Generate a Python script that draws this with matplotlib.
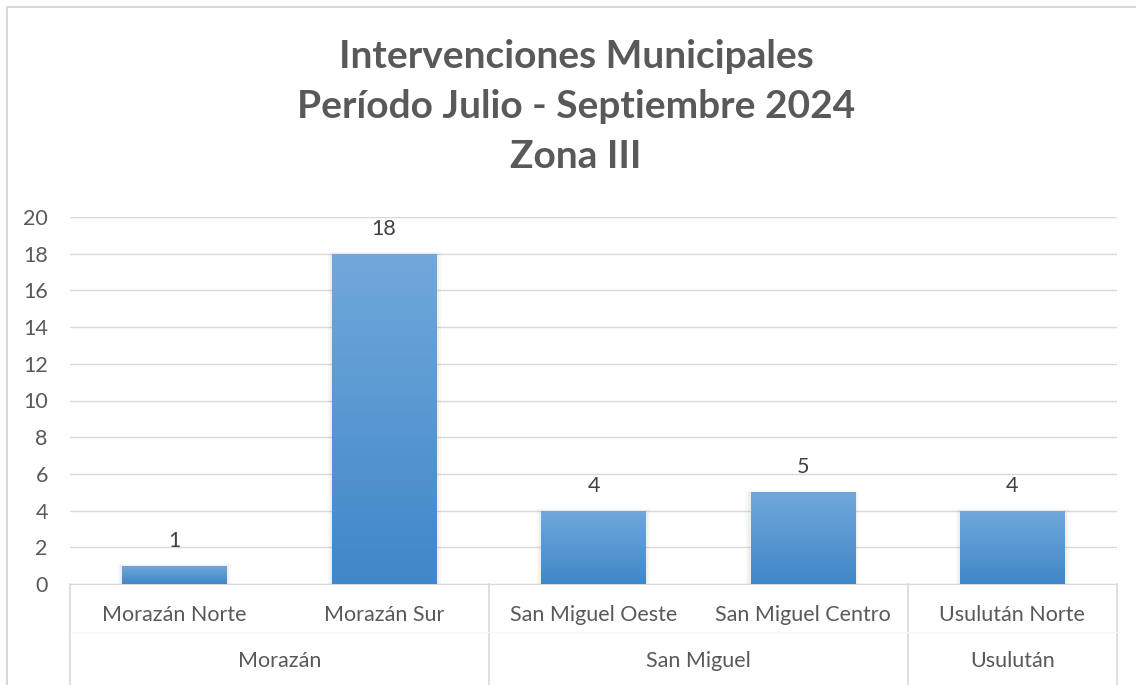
import numpy as np
import matplotlib.pyplot as plt
import matplotlib.transforms as mtransforms
from matplotlib.colors import LinearSegmentedColormap

plt.rcParams['font.family'] = ['Lato', 'DejaVu Sans']

# data
subcats = ["Morazán Norte", "Morazán Sur", "San Miguel Oeste", "San Miguel Centro", "Usulután Norte"]
groups = ["Morazán", "San Miguel", "Usulután"]
group_sizes = [2, 2, 1]
values = [1, 18, 4, 5, 4]
yticks = [0, 2, 4, 6, 8, 10, 12, 14, 16, 18, 20]
title_lines = ["Intervenciones Municipales", "Período Julio - Septiembre 2024", "Zona III"]

W, H = 1136, 685
TXT = "#595959"
GRID = "#d9d9d9"
FS = 15.5

fig = plt.figure(figsize=(W / 100, H / 100), dpi=100)
ax = fig.add_axes([70 / W, (H - 584) / H, (1117 - 70) / W, (584 - 217) / H])

x = np.arange(len(subcats))
bars = ax.bar(x, values, width=0.5, color="none", edgecolor="none", zorder=3)

# gradient fill + soft shadow per bar
cmap = LinearSegmentedColormap.from_list("bar", [(0.25, 0.53, 0.78), (0.44, 0.66, 0.86)])
grad = np.linspace(1, 0, 256).reshape(-1, 1)
for b in bars:
    x0, w, h = b.get_x(), b.get_width(), b.get_height()
    for k, a in [(0.04, 0.05), (0.02, 0.07)]:
        ax.bar(x0 + w / 2, h + k * 4, width=w + k, bottom=-k * 2, color="#7f7f7f",
               alpha=a, zorder=2, linewidth=0)
    im = ax.imshow(grad, cmap=cmap, aspect="auto", extent=[x0, x0 + w, 0, h],
                   origin="upper", zorder=3, interpolation="bicubic")
    im.set_clip_path(b)

for xi, v in zip(x, values):
    ax.text(xi, v + 1.35, str(v), ha="center", va="center", fontsize=FS, color="#404040")

ax.set_xlim(-0.5, len(subcats) - 0.5)
ax.set_ylim(0, 20)
ax.set_yticks(yticks)
ax.set_xticks([])
ax.grid(axis="y", color=GRID, linewidth=1, zorder=0)
ax.set_axisbelow(True)
for s in ["top", "right", "left"]:
    ax.spines[s].set_visible(False)
ax.spines["bottom"].set_color(GRID)
ax.tick_params(axis="y", length=0, pad=16, labelsize=FS, labelcolor=TXT)

# multi-level category axis
trans = mtransforms.blended_transform_factory(ax.transData, ax.transAxes)
bottom = -(H - 584) / (584 - 217)
bounds = np.concatenate([[0], np.cumsum(group_sizes)]) - 0.5
for bx in bounds:
    ax.plot([bx, bx], [0, bottom], transform=trans, color=GRID, lw=1.2, clip_on=False)
ax.plot([-0.5, len(subcats) - 0.5], [-0.13, -0.13], transform=trans, color="#f6f6f6",
        lw=1, clip_on=False)
for xi, lab in zip(x, subcats):
    ax.text(xi, -0.0845, lab, transform=trans, ha="center", va="center", fontsize=FS, color=TXT)
for i, g in enumerate(groups):
    gc = (bounds[i] + bounds[i + 1]) / 2
    ax.text(gc, -0.21, g, transform=trans, ha="center", va="center", fontsize=FS, color=TXT)

# chart border (top & left)
fig.add_artist(plt.Line2D([7 / W, 1 - 0.5 / W], [1 - 7 / H, 1 - 7 / H], color=GRID, lw=1.5))
fig.add_artist(plt.Line2D([7 / W, 7 / W], [0, 1 - 7 / H], color=GRID, lw=1.5))

for i, t in enumerate(title_lines):
    fig.text(576 / W, 1 - (57 + 50 * i) / H, t, ha="center", va="center",
             fontsize=28, fontweight="bold", color=TXT)

fig.savefig("out.png", dpi=100)
